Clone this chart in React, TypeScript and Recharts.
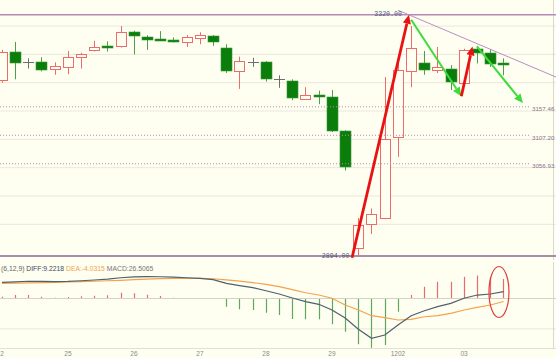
import React from 'react';
import {
  ComposedChart,
  Bar,
  Line,
  XAxis,
  YAxis,
  CartesianGrid,
  ReferenceLine,
  ReferenceDot,
} from 'recharts';

// candles
const OPEN = [3205, 3255, 3236, 3237, 3225, 3227, 3245, 3257, 3265, 3264, 3289, 3281, 3277, 3275, 3272, 3279, 3283, 3262, 3221, 3236, 3237, 3206, 3203, 3171, 3179, 3174, 3115, 2909, 2950, 2962, 3105, 3221, 3235, 3222, 3225, 3200, 3259, 3252, 3234];
const HIGH = [3258, 3272, 3243, 3245, 3236, 3256, 3253, 3274, 3273, 3300, 3292, 3284, 3291, 3280, 3284, 3289, 3284, 3268, 3246, 3244, 3238, 3213, 3206, 3192, 3186, 3187, 3116, 2961, 2978, 3210, 3235, 3300, 3256, 3263, 3231, 3260, 3265, 3259, 3243];
const LOW = [3200, 3206, 3225, 3220, 3214, 3215, 3225, 3255, 3255, 3262, 3250, 3258, 3275, 3271, 3263, 3268, 3265, 3217, 3189, 3228, 3202, 3191, 3169, 3170, 3162, 3113, 3045, 2894, 2933, 2959, 3069, 3192, 3214, 3217, 3187, 3197, 3234, 3228, 3213];
const CLOSE = [3254, 3234, 3236, 3223, 3230, 3246, 3251, 3263, 3264, 3290, 3282, 3275, 3276, 3272, 3281, 3284, 3271, 3221, 3238, 3236, 3206, 3206, 3173, 3179, 3174, 3114, 3052, 2949, 2969, 3100, 3222, 3261, 3222, 3227, 3202, 3258, 3252, 3233, 3233];

// MACD panel
const DIFF = [21.9, 22.5, 23.3, 23.2, 22.8, 23.2, 24, 25, 26.3, 28, 29.2, 29.5, 29.4, 28.8, 28, 27.3, 25.5, 20.5, 17.5, 14.6, 10.5, 6.1, 0.7, -4.3, -7.8, -15.5, -26.3, -41.6, -53.7, -49.3, -35.8, -23.2, -16.5, -11, -6.5, 0.3, 4.7, 6.1, 9.2218];
const DEA = [20.5, 20.8, 21.1, 21.5, 21.9, 22.3, 22.8, 23.3, 24, 24.6, 25.5, 26.2, 26.8, 27.2, 27.3, 27.1, 26.7, 25.2, 23.5, 21.5, 19, 16, 12, 7.8, 4.7, 0.3, -8.8, -15.5, -23.2, -25.9, -29, -28.1, -24.6, -23.2, -20, -15.5, -11.9, -8.8, -4.0315];
const MACD = [2.5, 4.7, 4.7, 2.4, 1.1, 2, 3, 3.8, 4.3, 7.8, 7, 5.1, 3.4, 1.1, 0.5, 0.4, -0.5, -11.1, -14.6, -15.5, -19.2, -22.3, -27.7, -28.1, -28.1, -34.8, -44.8, -61.8, -66.4, -62.8, -17.8, 4.7, 15.9, 22.7, 22.7, 29.4, 31, 29, 26.5065];

const TICK_POS = [0, 5, 10, 15, 20, 25, 30, 35];
const TICK_TEXT = ['2', '25', '26', '27', '28', '29', '1202', '03'];

const PRICE_GRID = [2900, 2950, 3000, 3050, 3100, 3150, 3200, 3250, 3300];
const MACD_GRID = [45, -41];
const HI_LINE = 3320;
const LO_LINE = 2894;
const LEVELS = [3157.46, 3107.2, 3056.93];

// drawn annotations, in [index, price]
const RED_ARROWS = [
  [[26.52, 2891], [30.83, 3320]],
  [[34.8, 3176], [35.64, 3264]],
];
const GREEN_ARROWS = [
  [[31.0, 3311], [34.8, 3176]],
  [[35.98, 3264], [39.47, 3164]],
];
const TREND = [[30, 3328], [41.97, 3210]];

const X_DOMAIN = [-0.15, 41.97];
const BG = '#fefef1';
const MAUVE = '#b68ab8';

const candles = OPEN.map((o, i) => ({
  i,
  open: o,
  high: HIGH[i],
  low: LOW[i],
  close: CLOSE[i],
  range: [LOW[i], HIGH[i]],
}));
const macdRows = MACD.map((m, i) => ({ i, macd: m, diff: DIFF[i], dea: DEA[i] }));

const Candle = (props: any) => {
  const { x, y, width, height, payload } = props;
  const { open, close, high, low } = payload;
  const top = Math.min(y, y + height);
  const k = Math.abs(height) / (high - low);
  const py = (v: number) => top + (high - v) * k;
  const cx = Math.round(x + width / 2) + 0.5;
  const left = cx - 5;
  if (open === close) {
    return (
      <g stroke="#6e6e6e" strokeWidth={1}>
        <line x1={cx} x2={cx} y1={py(high)} y2={py(low)} />
        <line x1={left - 0.5} x2={left + 10.5} y1={Math.round(py(open)) + 0.5} y2={Math.round(py(open)) + 0.5} />
      </g>
    );
  }
  if (close > open) {
    const bt = Math.round(py(close)) + 0.5;
    const bb = Math.round(py(open)) + 0.5;
    return (
      <g stroke="#ee6b6b" strokeWidth={1}>
        <line x1={cx} x2={cx} y1={py(high)} y2={bt} />
        <line x1={cx} x2={cx} y1={bb} y2={py(low)} />
        <rect x={left} y={bt} width={10} height={Math.max(bb - bt, 1)} fill={BG} />
      </g>
    );
  }
  const bt = Math.round(py(open));
  const bb = Math.round(py(close));
  return (
    <g>
      <line x1={cx} x2={cx} y1={py(high)} y2={py(low)} stroke="#4d9f4d" strokeWidth={1} />
      <rect x={left - 0.5} y={bt} width={11} height={Math.max(bb - bt, 2)} fill="#0b7d0b" stroke="#3f9a3f" strokeWidth={0.6} />
    </g>
  );
};

const Stick = (props: any) => {
  const { x, y, width, height, payload } = props;
  const cx = Math.round(x + width / 2) + 0.5;
  const color = payload.macd >= 0 ? '#e86c6c' : '#5fa65f';
  return <line x1={cx} x2={cx} y1={y} y2={y + height} stroke={color} strokeWidth={1.2} />;
};

const arrowShape = (color: string, w: number, head: number) => (p: any) => {
  const { x1, y1, x2, y2 } = p;
  const dx = x2 - x1;
  const dy = y2 - y1;
  const len = Math.hypot(dx, dy) || 1;
  const ux = dx / len;
  const uy = dy / len;
  const bx = x2 - ux * head;
  const by = y2 - uy * head;
  const hw = head * 0.45;
  return (
    <g>
      <line x1={x1} y1={y1} x2={bx} y2={by} stroke={color} strokeWidth={w} />
      <polygon
        points={`${x2},${y2} ${bx - uy * hw},${by + ux * hw} ${bx + uy * hw},${by - ux * hw}`}
        fill={color}
      />
    </g>
  );
};

const textDot = (txt: string, anchor: 'start' | 'end', color: string, family: string, size: number, dy: number) => (p: any) => (
  <text x={p.cx} y={p.cy + dy} textAnchor={anchor} dominantBaseline="central" fill={color} fontSize={size} fontFamily={family}>
    {txt}
  </text>
);

const ellipse = (p: any) => (
  <ellipse cx={p.cx} cy={p.cy} rx={10} ry={25.5} fill="none" stroke="#e03c3c" strokeWidth={1.2} />
);

export default function App() {
  return (
    <div style={{ position: 'fixed', left: 0, top: 0, width: 556, height: 358, background: BG, overflow: 'hidden' }}>
      <div style={{ position: 'absolute', left: 0, top: 0 }}>
        <ComposedChart width={556} height={260} data={candles} margin={{ top: 0, right: 0, bottom: 0, left: 0 }}>
          <CartesianGrid vertical={false} stroke="#e8e8dc" horizontalValues={PRICE_GRID} />
          <XAxis dataKey="i" type="number" domain={X_DOMAIN} allowDataOverflow hide />
          <YAxis type="number" domain={[2887, 3346]} ticks={PRICE_GRID} allowDataOverflow hide width={0} />
          <ReferenceLine x={41.78} stroke="#d8d8cc" ifOverflow="visible" />
          {LEVELS.map((v) => (
            <ReferenceLine
              key={v}
              segment={[{ x: X_DOMAIN[0], y: v }, { x: 40, y: v }]}
              stroke={MAUVE}
              strokeDasharray="1 2"
              ifOverflow="visible"
            />
          ))}
          <Bar dataKey="range" barSize={11} shape={Candle} isAnimationActive={false} />
          <ReferenceLine y={HI_LINE} stroke={MAUVE} strokeWidth={1.3} ifOverflow="visible" />
          <ReferenceLine y={LO_LINE} stroke="#a88ca8" strokeWidth={2} ifOverflow="visible" />
          <ReferenceLine
            segment={[{ x: TREND[0][0], y: TREND[0][1] }, { x: TREND[1][0], y: TREND[1][1] }]}
            stroke="#b98fc4"
            strokeWidth={1}
            ifOverflow="visible"
          />
          {GREEN_ARROWS.map((a, k) => (
            <ReferenceLine
              key={'g' + k}
              segment={[{ x: a[0][0], y: a[0][1] }, { x: a[1][0], y: a[1][1] }]}
              ifOverflow="visible"
              shape={arrowShape('#3ddc3d', 2, 9)}
            />
          ))}
          {RED_ARROWS.map((a, k) => (
            <ReferenceLine
              key={'r' + k}
              segment={[{ x: a[0][0], y: a[0][1] }, { x: a[1][0], y: a[1][1] }]}
              ifOverflow="visible"
              shape={arrowShape('#e81212', 2.8, 9)}
            />
          ))}
          {LEVELS.map((v) => (
            <ReferenceDot
              key={'t' + v}
              x={40.15}
              y={v}
              ifOverflow="visible"
              shape={textDot(v.toFixed(2), 'start', '#8c6f90', 'Liberation Sans', 6.2, 2)}
            />
          ))}
          <ReferenceDot x={30.3} y={HI_LINE} ifOverflow="visible" shape={textDot(HI_LINE.toFixed(2), 'end', '#4d5b7a', 'Liberation Mono', 6.6, 0)} />
          <ReferenceDot x={26.33} y={LO_LINE} ifOverflow="visible" shape={textDot(LO_LINE.toFixed(2), 'end', '#4d5b7a', 'Liberation Mono', 6.6, 0)} />
        </ComposedChart>
      </div>
      <div style={{ position: 'absolute', left: 0, top: 260 }}>
        <ComposedChart width={556} height={98} data={macdRows} margin={{ top: 2, right: 0, bottom: 0, left: 0 }}>
          <CartesianGrid vertical={false} stroke="#e6e6da" horizontalValues={MACD_GRID} />
          <XAxis
            dataKey="i"
            type="number"
            domain={X_DOMAIN}
            allowDataOverflow
            ticks={TICK_POS}
            tickFormatter={(v: number) => TICK_TEXT[TICK_POS.indexOf(v)]}
            height={9.5}
            tickSize={0}
            tickMargin={3}
            axisLine={{ stroke: '#e0e0d4' }}
            tickLine={false}
            interval={0}
            tick={{ fontSize: 6.5, fill: '#8a8a8a', fontFamily: 'Liberation Sans' }}
          />
          <YAxis type="number" domain={[-67.5, 49.3]} ticks={MACD_GRID} allowDataOverflow hide width={0} />
          <ReferenceLine y={0} stroke="#d2d2c6" ifOverflow="visible" />
          <ReferenceLine x={41.78} stroke="#d8d8cc" ifOverflow="visible" />
          <Bar dataKey="macd" barSize={1} shape={Stick} isAnimationActive={false} />
          <Line dataKey="dea" stroke="#f3a24e" strokeWidth={1.2} dot={false} isAnimationActive={false} />
          <Line dataKey="diff" stroke="#50606f" strokeWidth={1.2} dot={false} isAnimationActive={false} />
          <ReferenceDot x={37.65} y={8.8} ifOverflow="visible" shape={ellipse} />
        </ComposedChart>
      </div>
      <div
        style={{
          position: 'absolute',
          left: 1,
          top: 264,
          fontFamily: 'Liberation Sans',
          fontSize: 6.8,
          lineHeight: '10px',
          whiteSpace: 'nowrap',
          color: '#666',
        }}
      >
        <span>(6,12,9) </span>
        <span style={{ color: '#3f4a5a' }}>DIFF:9.2218 </span>
        <span style={{ color: '#f3a24e' }}>DEA:-4.0315 </span>
        <span style={{ color: '#777' }}>MACD:26.5065</span>
      </div>
    </div>
  );
}
